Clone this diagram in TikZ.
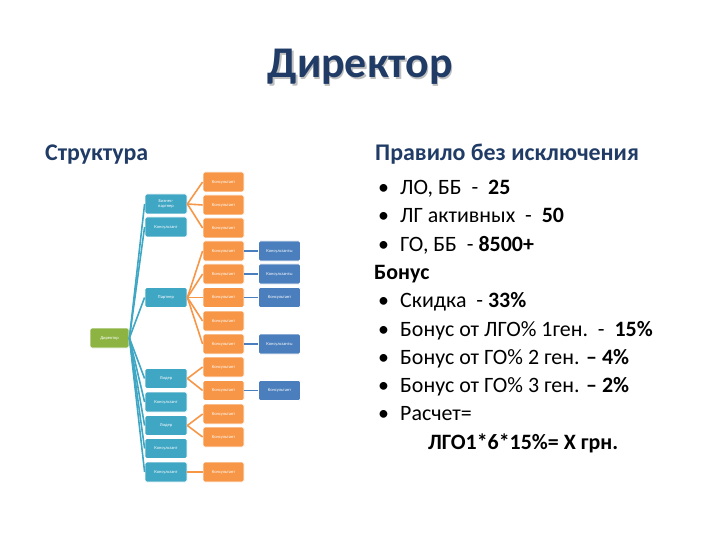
\documentclass[tikz,border=0pt]{standalone}
\usepackage{fontspec}
\setmainfont{Carlito}
\usetikzlibrary{positioning}
\definecolor{navy}{HTML}{1F3B66}
\definecolor{grn}{HTML}{8DB443}
\definecolor{aqua}{HTML}{3FA6C4}
\definecolor{orng}{HTML}{F79646}
\definecolor{dkblue}{HTML}{4A7EBD}

\tikzset{
  box/.style={minimum width=42bp, minimum height=20bp, inner sep=1bp,
    rounded corners=1.5bp, draw=white, line width=0.8bp, text=white,
    font=\fontsize{4.5}{5}\selectfont, align=center},
  dirbox/.style={box, fill=grn, minimum width=39bp},
  bluebox/.style={box, fill=aqua},
  orbox/.style={box, fill=orng, minimum width=41bp},
  dkbox/.style={box, fill=dkblue},
  bline/.style={aqua, line width=1.6bp},
  oline/.style={orng, line width=1.6bp},
  dline/.style={dkblue, line width=1.6bp},
  head/.style={font=\fontsize{24}{28}\selectfont\bfseries, text=navy, anchor=base west, inner sep=0pt},
  item/.style={font=\fontsize{22}{26}\selectfont, anchor=base west, inner sep=0pt},
  bolditem/.style={item, font=\fontsize{22}{26}\selectfont\bfseries},
}

\begin{document}
\begin{tikzpicture}[x=1bp, y=1bp]
\useasboundingbox (0,0) rectangle (720,-540);

% Title
\node[font=\fontsize{44}{50}\selectfont\bfseries, text=black!25, anchor=base] at (361.5,-79.5) {Директор};
\node[font=\fontsize{44}{50}\selectfont\bfseries, text=navy, anchor=base] (title) at (360,-78) {Директор};

% Headings
\node[head] (struct) at (45,-161) {Структура};
\node[head] (rule) at (375,-161) {Правило без исключения};

% Chart: root
\node[dirbox] (dir) at (109.5,-338) {Директор};

% Second level
\node[bluebox] (bp) at (166,-204) {Бизнес-\\партнер};
\node[bluebox] (k1) at (166,-227) {Консультант};
\node[bluebox] (par) at (166,-297.5) {Партнер};
\node[bluebox] (lid1) at (166,-378.5) {Лидер};
\node[bluebox] (k2) at (166,-402) {Консультант};
\node[bluebox] (lid2) at (166,-425.5) {Лидер};
\node[bluebox] (k3) at (166,-448.5) {Консультант};
\node[bluebox] (k4) at (166,-472) {Консультант};

% Third level
\foreach \n/\y in {o1/182, o2/205, o3/228, o4/251, o5/274, o6/297.5, o7/321,
                   o8/344, o9/367, o10/390.5, o11/414, o12/437, o13/472}
  \node[orbox] (\n) at (223.5,-\y) {Консультант};

% Fourth level
\node[dkbox] (d1) at (279.5,-251) {Консультанты};
\node[dkbox] (d2) at (279.5,-274) {Консультанты};
\node[dkbox] (d3) at (279.5,-297.5) {Консультант};
\node[dkbox] (d4) at (279.5,-344) {Консультанты};
\node[dkbox] (d5) at (279.5,-390.5) {Консультант};

% Connectors
\foreach \c in {bp, k1, par, lid1, k2, lid2, k3, k4}
  \draw[bline] (dir.east) -- (\c.west);
\foreach \c in {o1, o2, o3}
  \draw[oline] (bp.east) -- (\c.west);
\foreach \c in {o4, o5, o6, o7, o8}
  \draw[oline] (par.east) -- (\c.west);
\foreach \c in {o9, o10}
  \draw[oline] (lid1.east) -- (\c.west);
\foreach \c in {o11, o12}
  \draw[oline] (lid2.east) -- (\c.west);
\draw[oline] (k4.east) -- (o13.west);
\foreach \a/\b in {o4/d1, o5/d2, o6/d3, o8/d4, o10/d5}
  \draw[dline] (\a.east) -- (\b.west);

% Rule list
\foreach \y in {194.5, 222.8, 251.1, 307.7, 336, 364.3, 392.6, 420.9}
  \node[item] at (378,-\y) {•};
\node[item] (r1) at (400,-194.5) {ЛО, ББ\ \ -\ \ \textbf{25}};
\node[item] (r2) at (400,-222.8) {ЛГ активных\ \ -\ \ \textbf{50}};
\node[item] (r3) at (400,-251.1) {ГО, ББ\ \ - \textbf{8500+}};
\node[bolditem] (bon) at (374,-279.4) {Бонус};
\node[item] (r4) at (400,-307.7) {Скидка\ \ - \textbf{33\%}};
\node[item] (r5) at (400,-336) {Бонус от ЛГО\% 1ген.\ \ -\ \ \textbf{15\%}};
\node[item] (r6) at (400,-364.3) {Бонус от ГО\% 2 ген. \textbf{– 4\%}};
\node[item] (r7) at (400,-392.6) {Бонус от ГО\% 3 ген. \textbf{– 2\%}};
\node[item] (r8) at (400,-420.9) {Расчет=};
\node[bolditem] (calc) at (428,-449.2) {ЛГО1*6*15\%= Х грн.};

\end{tikzpicture}
\end{document}
